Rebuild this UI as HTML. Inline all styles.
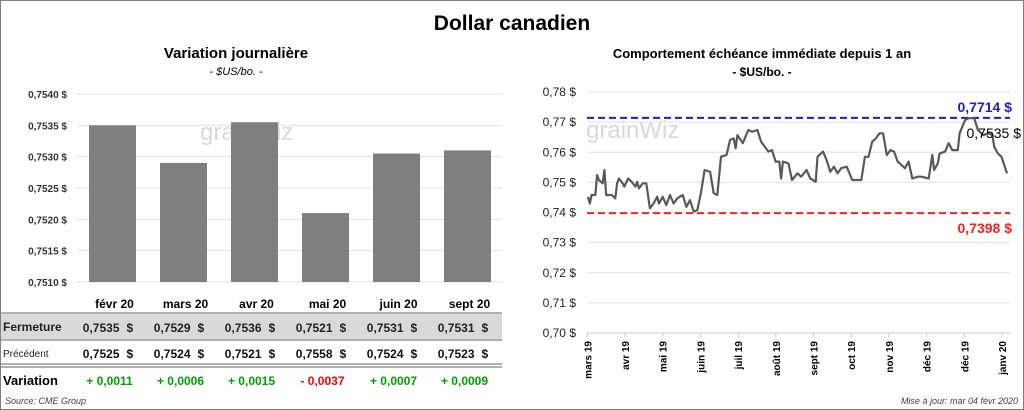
<!DOCTYPE html>
<html><head><meta charset="utf-8">
<style>
html,body{margin:0;padding:0;background:#fff;}
svg{display:block;font-family:"Liberation Sans",Calibri,sans-serif;}
</style></head>
<body>
<svg id="c" width="1024" height="410" viewBox="0 0 1024 410">
<rect x="0.5" y="0.5" width="1023" height="409" fill="#fff" stroke="#7f7f7f"/>
<text x="512" y="30" text-anchor="middle" font-size="21" font-weight="bold">Dollar canadien</text>
<text x="236" y="58" text-anchor="middle" font-size="15" font-weight="bold">Variation  journalière</text>
<text x="236" y="75" text-anchor="middle" font-size="11" font-style="italic">- $US/bo. -</text>
<text x="762" y="58" text-anchor="middle" font-size="13" font-weight="bold">Comportement échéance immédiate depuis 1 an</text>
<text x="762" y="76" text-anchor="middle" font-size="12" font-weight="bold">- $US/bo. -</text>
<text x="200" y="140" font-size="24" fill="#d8d8d8">grainWiz</text>
<text x="586" y="138" font-size="24" fill="#d8d8d8">grainWiz</text>
<g id="left"></g>
<g id="table"></g>
<g id="right"></g>
<text x="5" y="404" font-size="9" font-style="italic" fill="#404040">Source: CME Group</text>
<text x="1018" y="404" text-anchor="end" font-size="9" font-style="italic" fill="#404040">Mise à jour: mar 04 févr 2020</text>
</svg>
<script>
const barCats=["févr 20","mars 20","avr 20","mai 20","juin 20","sept 20"];
const closeVals=[0.7535,0.7529,0.75355,0.7521,0.75305,0.7531];
const closeLabels=["0,7535","0,7529","0,7536","0,7521","0,7531","0,7531"];
const prevLabels=["0,7525","0,7524","0,7521","0,7558","0,7524","0,7523"];
const varLabels=["+ 0,0011","+ 0,0006","+ 0,0015","- 0,0037","+ 0,0007","+ 0,0009"];
const leftTicks=[0.7510,0.7515,0.7520,0.7525,0.7530,0.7535,0.7540];

const lineDays=[0,1,2,4,5,6,8,9,10,13,15,16,17,19,20,22,24,26,27,28,30,32,34,36,38,39,41,43,45,47,49,52,54,56,58,60,62,64,67,69,71,73,76,78,80,81,82,85,88,90,93,95,99,101,103,105,106,107,110,112,115,117,120,122,125,126,129,131,133,135,137,139,142,145,148,150,152,154,156,158,160,162,164,166,168,170,172,174,176,178,181,183,187,189,190,192,193,196,198,200,203,204,207,209,212,214,217,220,222,223,225,227,230];
const lineVals=[0.7452,0.7430,0.7458,0.7458,0.7524,0.7508,0.7497,0.7541,0.7458,0.7458,0.7447,0.7497,0.7513,0.7497,0.7486,0.7513,0.7502,0.7486,0.7502,0.7480,0.7497,0.7497,0.7414,0.7430,0.7452,0.7430,0.7452,0.7425,0.7458,0.7430,0.7447,0.7458,0.7419,0.7441,0.7403,0.7408,0.7464,0.7541,0.7535,0.7464,0.7458,0.7585,0.7591,0.7641,0.7646,0.7613,0.7657,0.7630,0.7674,0.7668,0.7674,0.7635,0.7602,0.7607,0.7569,0.7569,0.7513,0.7569,0.7563,0.7508,0.7530,0.7519,0.7541,0.7513,0.7502,0.7585,0.7602,0.7574,0.7535,0.7552,0.7530,0.7547,0.7552,0.7508,0.7508,0.7508,0.7585,0.7585,0.7635,0.7646,0.7663,0.7663,0.7591,0.7607,0.7602,0.7569,0.7558,0.7547,0.7569,0.7513,0.7519,0.7519,0.7513,0.7591,0.7541,0.7563,0.7596,0.7602,0.7630,0.7607,0.7607,0.7663,0.7707,0.7713,0.7713,0.7674,0.7657,0.7663,0.7657,0.7618,0.7596,0.7585,0.7530];
const rightTicks=[0.70,0.71,0.72,0.73,0.74,0.75,0.76,0.77,0.78];
const monthLabels=["mars 19","avr 19","mai 19","juin 19","juil 19","août 19","sept 19","oct 19","nov 19","déc 19","déc 19","janv 20"];
const maxVal=0.7714, minVal=0.7398, lastVal=0.7535;

const NS="http://www.w3.org/2000/svg";
function mk(p,tag,attrs,txt){const e=document.createElementNS(NS,tag);for(const k in attrs)e.setAttribute(k,attrs[k]);if(txt!==undefined)e.textContent=txt;p.appendChild(e);return e;}
const fmt=(v,d)=>v.toFixed(d).replace('.',',');

// left bar chart
const L=document.getElementById('left');
const ly=v=>282-(v-0.7510)/0.0030*188;
const bx=i=>112.5+i*71;
leftTicks.forEach(t=>{
  const g=mk(L,'line',{x1:77,x2:502,y1:ly(t),y2:ly(t),stroke:'#e0e0e0'});
  
  
  const tx=mk(L,'text',{x:67,y:ly(t)+4,'text-anchor':'end','font-size':10,'font-weight':'bold',fill:'#333'},fmt(t,4)+' $');
  
  
});
closeVals.forEach((v,i)=>{
  const r=mk(L,'rect',{x:bx(i)-23.5,y:ly(v),width:47,height:282-ly(v),fill:'#7f7f7f'});
  
  
});

// table
const T=document.getElementById('table');
const bg=mk(T,'rect',{x:1,y:314,width:501,height:25,fill:'#d9d9d9'});


[[1,313],[1,340],[1,364],[1,367]].forEach(([x,y])=>{
  const l=mk(T,'line',{x1:x,x2:502,y1:y,y2:y,stroke:'#808080','stroke-width':1.2});
  
  
});
const rl=[['Fermeture',331,12,'bold','#222'],['Précédent',357,10,'normal','#222'],['Variation',385,13,'bold','#000']];
rl.forEach(([t,y,s,w,c])=>{
  const e=mk(T,'text',{x:3,y:y,'font-size':s,'font-weight':w,fill:c},t);
  
  
});
barCats.forEach((c,i)=>{
  const x=bx(i);
  const h=mk(T,'text',{x:x+2,y:308,'text-anchor':'middle','font-size':12,'font-weight':'bold'},c);
  
  
  [[closeLabels[i],332,'#222','fermeture-value'],[prevLabels[i],358,'#111','precedent-value']].forEach(([lab,y,col,nm])=>{
    const a=mk(T,'text',{x:x+7,y:y,'text-anchor':'end','font-size':12,'font-weight':'bold',fill:col},lab);
    
    
    const s=mk(T,'text',{x:x+14,y:y,'font-size':12,'font-weight':'bold',fill:col},'$');
    
    
  });
  const d=mk(T,'text',{x:x-3,y:385,'text-anchor':'middle','font-size':12,'font-weight':'bold',fill:varLabels[i][0]=='-'?'#ff0000':'#00a000'},varLabels[i]);
  
  
});

// right line chart
const R=document.getElementById('right');
const ry=v=>333-(v-0.70)/0.08*241;
const rx=d=>588+d*(419/230);
rightTicks.forEach(t=>{
  const g=mk(R,'line',{x1:587,x2:1010,y1:ry(t),y2:ry(t),stroke:t==0.70?'#c8c8c8':'#e0e0e0'});
  
  
  const tx=mk(R,'text',{x:576,y:ry(t)+4,'text-anchor':'end','font-size':12,fill:'#222'},fmt(t,2)+' $');
  
  
});
monthLabels.forEach((m,i)=>{
  const x=587.3+i*37.7;
  const tk=mk(R,'line',{x1:x,x2:x,y1:333,y2:337,stroke:'#c8c8c8'});
  
  
  const t=mk(R,'text',{x:0,y:0,'text-anchor':'end','font-size':10,'font-weight':'bold',transform:`translate(${x+4},341) rotate(-90)`},m);
  
  
});
const hi=mk(R,'line',{x1:587,x2:1010,y1:ry(maxVal),y2:ry(maxVal),stroke:'#1f1fbf','stroke-width':2,'stroke-dasharray':'7,4'});


const lo=mk(R,'line',{x1:587,x2:1010,y1:ry(minVal),y2:ry(minVal),stroke:'#ff2020','stroke-width':2,'stroke-dasharray':'7,4'});


const hl=mk(R,'text',{x:1012,y:ry(maxVal)-6,'text-anchor':'end','font-size':14,'font-weight':'bold',fill:'#1f1fbf'},fmt(maxVal,4)+' $');


const ll=mk(R,'text',{x:1012,y:ry(minVal)+20,'text-anchor':'end','font-size':14,'font-weight':'bold',fill:'#ff2020'},fmt(minVal,4)+' $');


let d='';
lineDays.forEach((dd,i)=>{d+=(i?'L':'M')+rx(dd).toFixed(1)+','+ry(lineVals[i]).toFixed(1);});
const p=mk(R,'path',{d:d,fill:'none',stroke:'#595959','stroke-width':2.2,'stroke-linejoin':'round'});


const cl=mk(R,'text',{x:1021,y:138,'text-anchor':'end','font-size':14,fill:'#000'},fmt(lastVal,4)+' $');


</script>
</body></html>
